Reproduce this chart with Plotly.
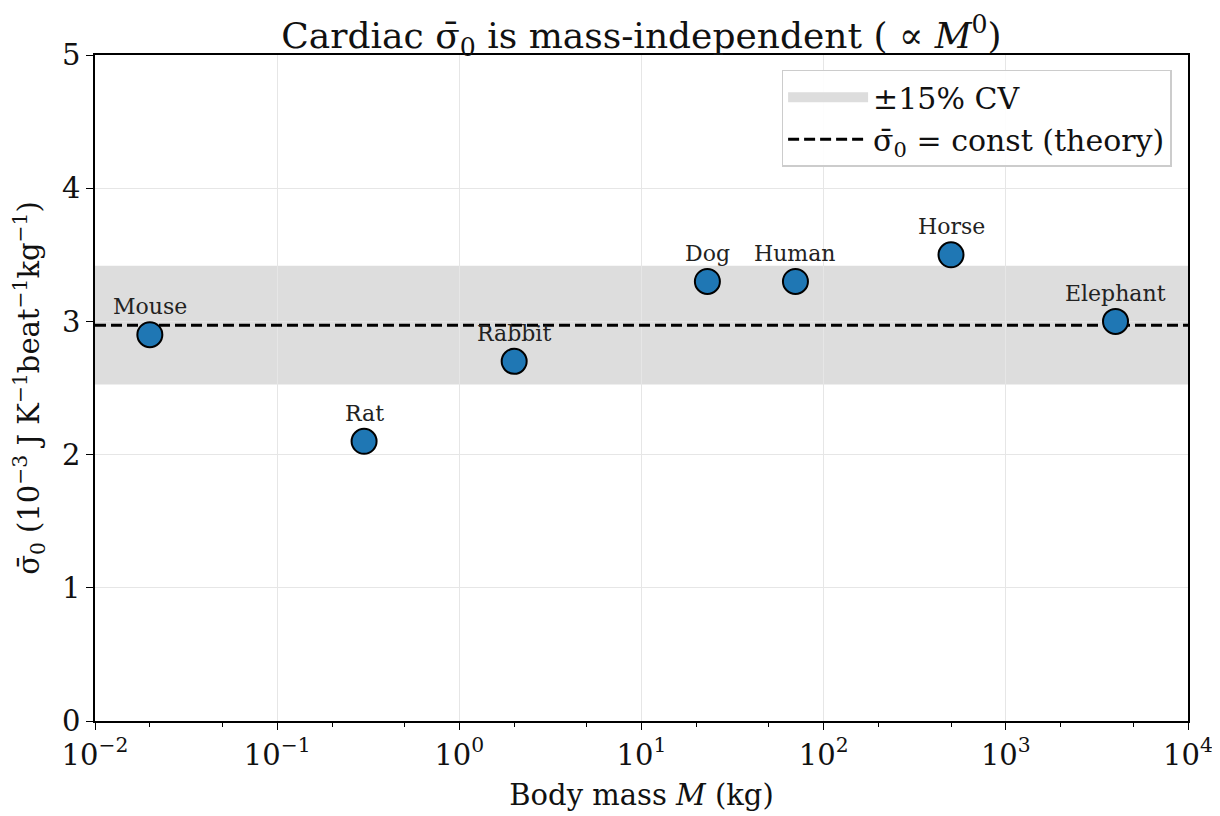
import math
import plotly.graph_objects as go

species = ["Mouse", "Rat", "Rabbit", "Dog", "Human", "Horse", "Elephant"]
mass_kg = [0.02, 0.3, 2.0, 23.0, 70.0, 500.0, 4000.0]
sigma0 = [2.9, 2.1, 2.7, 3.3, 3.3, 3.5, 3.0]
x_tickvals = [1e-2, 1e-1, 1e0, 1e1, 1e2, 1e3, 1e4]
x_ticktext = ["10<sup>−2</sup>", "10<sup>−1</sup>", "10<sup>0</sup>", "10<sup>1</sup>",
              "10<sup>2</sup>", "10<sup>3</sup>", "10<sup>4</sup>"]
cv = 0.15

mean_val = sum(sigma0) / len(sigma0)
lo, hi = mean_val * (1 - cv), mean_val * (1 + cv)
xmin, xmax = x_tickvals[0], x_tickvals[-1]

FONT = "DejaVu Serif"
fig = go.Figure()

fig.add_shape(type="rect", xref="x", yref="y", x0=xmin, x1=xmax, y0=lo, y1=hi,
              fillcolor="#dddddd", line_width=0, layer="below")
fig.add_trace(go.Scatter(x=[None], y=[None], mode="lines",
                         line=dict(width=10, color="#dddddd"),
                         name="±15% CV"))
fig.add_trace(go.Scatter(x=[xmin, xmax], y=[mean_val, mean_val], mode="lines",
                         line=dict(color="black", width=3, dash="11px,5px"),
                         name="σ̄<sub>0</sub> = const (theory)"))
fig.add_trace(go.Scatter(x=mass_kg, y=sigma0, mode="markers", showlegend=False,
                         marker=dict(size=25, color="#1f77b4",
                                     line=dict(color="black", width=2))))
for s, m, v in zip(species, mass_kg, sigma0):
    fig.add_annotation(x=math.log10(m), y=v, xref="x", yref="y", text=s, showarrow=False,
                       yshift=28, font=dict(family=FONT, size=22, color="#222"))

axis_common = dict(showline=True, linecolor="black", linewidth=1.5, mirror=True,
                   ticks="outside", ticklen=7, tickwidth=1.3, tickcolor="black",
                   showgrid=True, gridcolor="#e6e6e6", gridwidth=1, zeroline=False,
                   automargin=False,
                   tickfont=dict(family=FONT, size=29, color="#111"))
fig.update_xaxes(type="log", range=[-2, 4], tickvals=x_tickvals, ticktext=x_ticktext,
                 minor=dict(ticks="outside", ticklen=4, tickcolor="black", tickwidth=1, showgrid=False),
                 title=dict(text="Body mass <i>M</i> (kg)", font=dict(family=FONT, size=29, color="#111"),
                            standoff=14),
                 **axis_common)
fig.update_yaxes(range=[0, 5], tickvals=[0, 1, 2, 3, 4, 5],
                 title=dict(text="σ̄<sub>0</sub> (10<sup>−3</sup> J K<sup>−1</sup>beat<sup>−1</sup>kg<sup>−1</sup>)",
                            font=dict(family=FONT, size=29, color="#111"), standoff=14),
                 **axis_common)
fig.update_layout(
    width=1220, height=816,
    margin=dict(l=87, r=40, t=47, b=103),
    plot_bgcolor="white", paper_bgcolor="white",
    title=dict(text="Cardiac σ̄<sub>0</sub> is mass-independent ( ∝ <i>M</i><sup>0</sup>)",
               xref="paper", x=0.5, xanchor="center", y=0.966, yanchor="middle",
               font=dict(family=FONT, size=36, color="#111")),
    legend=dict(x=0.985, y=0.978, xanchor="right", yanchor="top",
                bgcolor="rgba(255,255,255,0.9)", bordercolor="#cccccc", borderwidth=1.5,
                font=dict(family=FONT, size=30, color="#111"), itemwidth=80,
                tracegroupgap=6),
)
fig.write_html("out.html")
